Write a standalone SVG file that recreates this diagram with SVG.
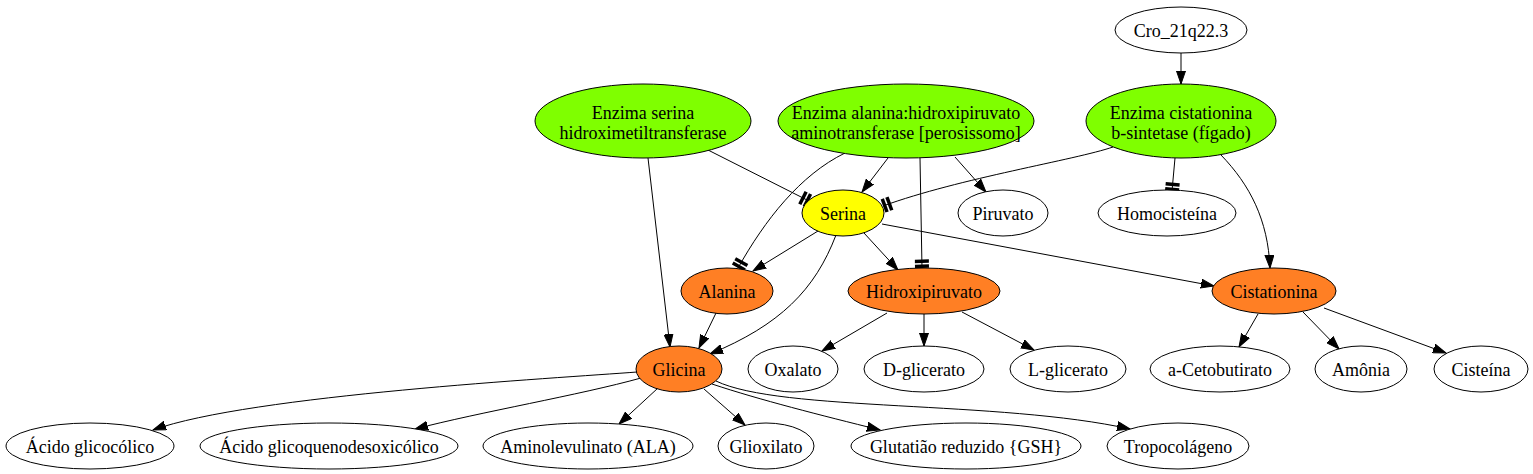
<svg xmlns="http://www.w3.org/2000/svg" width="1533" height="474" viewBox="0 0 1533 474">
<style>
text{font-family:"Liberation Serif","Times New Roman",serif;font-size:18px;text-anchor:middle;fill:#000}
ellipse{stroke:#000;stroke-width:1;fill:#fff}
.enz{fill:#7fff00}
.ser{fill:#ffff00}
.org{fill:#ff7f24}
.e{fill:none;stroke:#000;stroke-width:1}
.a{marker-end:url(#arr)}
.t{marker-end:url(#tee)}
</style>
<defs>
<marker id="arr" markerUnits="userSpaceOnUse" markerWidth="14" markerHeight="10" refX="13" refY="5" orient="auto" viewBox="0 0 14 10">
<path d="M0,0.5 L13,5 L0,9.5 z" fill="#000" stroke="#000" stroke-width="1"/>
</marker>
<marker id="tee" markerUnits="userSpaceOnUse" markerWidth="12" markerHeight="16" refX="10" refY="8" orient="auto" viewBox="0 0 12 16">
<rect x="1.5" y="1" width="3.5" height="14" fill="#000"/>
<rect x="6.5" y="1" width="3.5" height="14" fill="#000"/>
</marker>
</defs>
<g id="edges">
<path class="e a" d="M1181,53 L1181,84"/>
<path class="e t" d="M708,150 L809,201"/>
<path class="e a" d="M648,158 L670,347"/>
<path class="e t" d="M845,153 C800,175 765,220 738,268"/>
<path class="e a" d="M888,158 L862,192"/>
<path class="e t" d="M920,158 L922,268"/>
<path class="e a" d="M955,157 L986,192"/>
<path class="e t" d="M1113,147 C1075,160 960,178 883,206"/>
<path class="e t" d="M1175,158 L1172,191"/>
<path class="e a" d="M1221,155 C1250,185 1268,220 1270,268"/>
<path class="e a" d="M818,231 L753,271"/>
<path class="e a" d="M836,235 C815,290 780,325 710,354"/>
<path class="e a" d="M864,233 L898,270"/>
<path class="e a" d="M882,224 L1214,286"/>
<path class="e a" d="M716,313 L699,348"/>
<path class="e a" d="M887,313 L822,351"/>
<path class="e a" d="M924,314 L924,346"/>
<path class="e a" d="M962,312 L1034,350"/>
<path class="e a" d="M1258,314 L1239,347"/>
<path class="e a" d="M1303,312 L1339,349"/>
<path class="e a" d="M1324,308 L1446,353"/>
<path class="e a" d="M637,372 C560,378 250,395 153,430"/>
<path class="e a" d="M641,378 C580,395 480,412 415,429"/>
<path class="e a" d="M658,388 L619,424"/>
<path class="e a" d="M704,389 L745,425"/>
<path class="e a" d="M712,384 C760,400 820,415 880,430"/>
<path class="e a" d="M716,381 C780,412 1000,400 1130,429"/>
</g>
<g id="n_cro"><ellipse cx="1181" cy="30" rx="66" ry="23"/><text x="1181" y="37">Cro_21q22.3</text></g>
<g id="n_enz_cist"><ellipse class="enz" cx="1181" cy="121" rx="95" ry="37"/><text x="1181" y="119">Enzima cistationina</text><text x="1181" y="139">b-sintetase (fígado)</text></g>
<g id="n_enz_serina"><ellipse class="enz" cx="643" cy="121" rx="108" ry="37"/><text x="643" y="119">Enzima serina</text><text x="643" y="139">hidroximetiltransferase</text></g>
<g id="n_enz_alanina"><ellipse class="enz" cx="906" cy="121" rx="128" ry="37"/><text x="906" y="119">Enzima alanina:hidroxipiruvato</text><text x="906" y="139">aminotransferase [perosissomo]</text></g>
<g id="n_serina"><ellipse class="ser" cx="843" cy="213" rx="41" ry="23"/><text x="843" y="220">Serina</text></g>
<g id="n_piruvato"><ellipse cx="1003" cy="213" rx="45" ry="23"/><text x="1003" y="220">Piruvato</text></g>
<g id="n_homocisteina"><ellipse cx="1167" cy="213" rx="69" ry="23"/><text x="1167" y="220">Homocisteína</text></g>
<g id="n_alanina"><ellipse class="org" cx="727" cy="291" rx="46" ry="23"/><text x="727" y="298">Alanina</text></g>
<g id="n_hidroxipiruvato"><ellipse class="org" cx="924" cy="291" rx="76" ry="23"/><text x="924" y="298">Hidroxipiruvato</text></g>
<g id="n_cistationina"><ellipse class="org" cx="1274" cy="291" rx="62" ry="23"/><text x="1274" y="298">Cistationina</text></g>
<g id="n_glicina"><ellipse class="org" cx="679" cy="369" rx="43" ry="23"/><text x="679" y="376">Glicina</text></g>
<g id="n_oxalato"><ellipse cx="793" cy="369" rx="45" ry="23"/><text x="793" y="376">Oxalato</text></g>
<g id="n_dglicerato"><ellipse cx="924" cy="369" rx="60" ry="23"/><text x="924" y="376">D-glicerato</text></g>
<g id="n_lglicerato"><ellipse cx="1068" cy="369" rx="58" ry="23"/><text x="1068" y="376">L-glicerato</text></g>
<g id="n_acetobutirato"><ellipse cx="1220" cy="369" rx="70" ry="23"/><text x="1220" y="376">a-Cetobutirato</text></g>
<g id="n_amonia"><ellipse cx="1361" cy="369" rx="46" ry="23"/><text x="1361" y="376">Amônia</text></g>
<g id="n_cisteina"><ellipse cx="1481" cy="369" rx="47" ry="23"/><text x="1481" y="376">Cisteína</text></g>
<g id="n_glicocolico"><ellipse cx="90" cy="446" rx="84" ry="23"/><text x="90" y="453">Ácido glicocólico</text></g>
<g id="n_glicoqueno"><ellipse cx="329" cy="446" rx="129" ry="23"/><text x="329" y="453">Ácido glicoquenodesoxicólico</text></g>
<g id="n_ala"><ellipse cx="588" cy="446" rx="105" ry="23"/><text x="588" y="453">Aminolevulinato (ALA)</text></g>
<g id="n_glioxilato"><ellipse cx="766" cy="446" rx="48" ry="23"/><text x="766" y="453">Glioxilato</text></g>
<g id="n_gsh"><ellipse cx="966" cy="446" rx="115" ry="23"/><text x="966" y="453">Glutatião reduzido {GSH}</text></g>
<g id="n_tropocolageno"><ellipse cx="1178" cy="446" rx="71" ry="23"/><text x="1178" y="453">Tropocolágeno</text></g>
</svg>
